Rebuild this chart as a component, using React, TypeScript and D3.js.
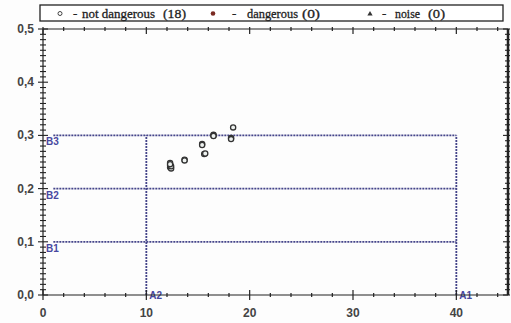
import React from "react";
import * as d3 from "d3";

const xTicks = [0, 10, 20, 30, 40];
const yTicks = [0, 0.1, 0.2, 0.3, 0.4, 0.5];
const yTickLabels = ["0,0", "0,1", "0,2", "0,3", "0,4", "0,5"];
const hLines = [0.1, 0.2, 0.3];
const hLabels = ["B1", "B2", "B3"];
const vLines = [10, 40];
const vLabels = ["A2", "A1"];
const ptsX = [12.3, 12.3, 12.3, 12.4, 12.4, 13.7, 15.4, 15.4, 15.6, 15.7, 16.5, 16.5, 18.2, 18.2, 18.4, 12.3, 13.7, 16.5];
const ptsY = [0.244, 0.240, 0.248, 0.238, 0.242, 0.254, 0.284, 0.282, 0.265, 0.266, 0.300, 0.301, 0.295, 0.293, 0.315, 0.246, 0.253, 0.299];
const legendNames = ["not dangerous", "dangerous", "noise"];
const legendCounts = ["(18)", "(0)", "(0)"];

export default function App() {
  const W = 511, H = 323;
  const x = d3.scaleLinear().domain([0, 45]).range([43, 508]);
  const y = d3.scaleLinear().domain([0, 0.5]).range([295, 29]);
  const axisCol = "#222";
  const lineCol = "#45458a";
  const labCol = "#4848a0";
  const minorX = d3.range(0, 46, 2);
  const minorY = d3.range(0, 0.5001, 0.01);
  const pts = ptsX.map((v, i) => [v, ptsY[i]]);
  const sans = "Arial, 'Liberation Sans', sans-serif";
  const serif = "Liberation Serif";
  const legX = [
    { sym: 60, dash: 73, name: 82, nameW: 73, count: 163, countW: 23 },
    { sym: 213, dash: 232, name: 247, nameW: 51, count: 302, countW: 18 },
    { sym: 370, dash: 382, name: 395, nameW: 25, count: 428, countW: 17 },
  ];

  return (
    <svg width={W} height={H} style={{ position: "absolute", left: 0, top: 0, background: "#fff" }}>
      <rect x={0} y={0} width={W} height={H} fill="#fdfdfd" />
      {/* legend */}
      <rect x={40} y={5} width={463} height={16} fill="#fff" stroke="#222" strokeWidth={1.3} />
      <g style={{ fontFamily: serif }} fontSize={13} fill="#222" stroke="#222" strokeWidth={0.3}>
        <circle cx={legX[0].sym} cy={13.5} r={2} fill="none" stroke="#444" strokeWidth={1} />
        <circle cx={legX[1].sym} cy={13.5} r={2.3} fill="#7a2a22" stroke="none" />
        <path d={d3.symbol(d3.symbolTriangle, 12)() || ""} transform={`translate(${legX[2].sym},14)`} fill="#333" stroke="none" />
        {legendNames.map((n, i) => (
          <g key={"lg" + i}>
            <text x={legX[i].dash} y={17.5}>-</text>
            <text x={legX[i].name} y={17.5} textLength={legX[i].nameW} lengthAdjust="spacingAndGlyphs">{n}</text>
            <text x={legX[i].count} y={17.5} textLength={legX[i].countW} lengthAdjust="spacingAndGlyphs">{legendCounts[i]}</text>
          </g>
        ))}
      </g>
      {/* reference lines */}
      {hLines.map((v, i) => (
        <g key={"h" + i}>
          <line x1={x(1.0)} x2={x(40)} y1={y(v)} y2={y(v)} stroke={lineCol} strokeWidth={1.8} strokeDasharray="2,1" />
          <text x={x(0) + 3} y={y(v) + 10} fontFamily={sans} fontSize={10} fontWeight="bold" fill={labCol}>{hLabels[i]}</text>
        </g>
      ))}
      {vLines.map((v, i) => (
        <g key={"v" + i}>
          <line x1={x(v)} x2={x(v)} y1={y(0)} y2={y(0.3)} stroke={lineCol} strokeWidth={1.8} strokeDasharray="2,1" />
          <text x={x(v) + 3} y={y(0) + 4} fontFamily={sans} fontSize={10} fontWeight="bold" fill={labCol}>{vLabels[i]}</text>
        </g>
      ))}
      {/* axes */}
      <line x1={x(0)} x2={x(45)} y1={y(0)} y2={y(0)} stroke={axisCol} strokeWidth={1.2} />
      <line x1={x(0)} x2={x(45)} y1={y(0.5)} y2={y(0.5)} stroke={axisCol} strokeWidth={1.2} />
      <line x1={x(0)} x2={x(0)} y1={y(0)} y2={y(0.5)} stroke={axisCol} strokeWidth={1.2} />
      <line x1={x(45)} x2={x(45)} y1={y(0)} y2={y(0.5)} stroke={axisCol} strokeWidth={2.5} />
      {minorX.map((v) => {
        const major = v % 10 === 0;
        return (
          <g key={"mx" + v}>
            <line x1={x(v)} x2={x(v)} y1={y(0) - (major ? 5 : 2)} y2={y(0) + (major ? 5 : 2)} stroke={axisCol} strokeWidth={1.2} />
            <line x1={x(v)} x2={x(v)} y1={y(0.5) - 2} y2={y(0.5) + (major ? 5 : 2)} stroke={axisCol} strokeWidth={1.2} />
          </g>
        );
      })}
      {minorY.map((v, i) => {
        const major = i % 10 === 0;
        return (
          <g key={"my" + i}>
            <line x1={x(0) - (major ? 5 : 3)} x2={x(0) + (major ? 5 : 3)} y1={y(v)} y2={y(v)} stroke={axisCol} strokeWidth={1.1} />
            <line x1={x(45) - (major ? 5 : 3)} x2={x(45) + 2} y1={y(v)} y2={y(v)} stroke={axisCol} strokeWidth={1.1} />
          </g>
        );
      })}
      <g fontFamily={sans} fontSize={12} fontWeight="bold" fill="#444">
        {yTicks.map((v, i) => (
          <text key={"yl" + i} x={34} y={y(v) + 4} textAnchor="end">{yTickLabels[i]}</text>
        ))}
        {xTicks.map((v) => (
          <text key={"xl" + v} x={x(v)} y={317} textAnchor="middle">{v}</text>
        ))}
      </g>
      {/* points */}
      {pts.map((p, i) => (
        <circle key={"p" + i} cx={x(p[0])} cy={y(p[1])} r={2.6} fill="#eef2f0" stroke="#333" strokeWidth={1.3} />
      ))}
    </svg>
  );
}
